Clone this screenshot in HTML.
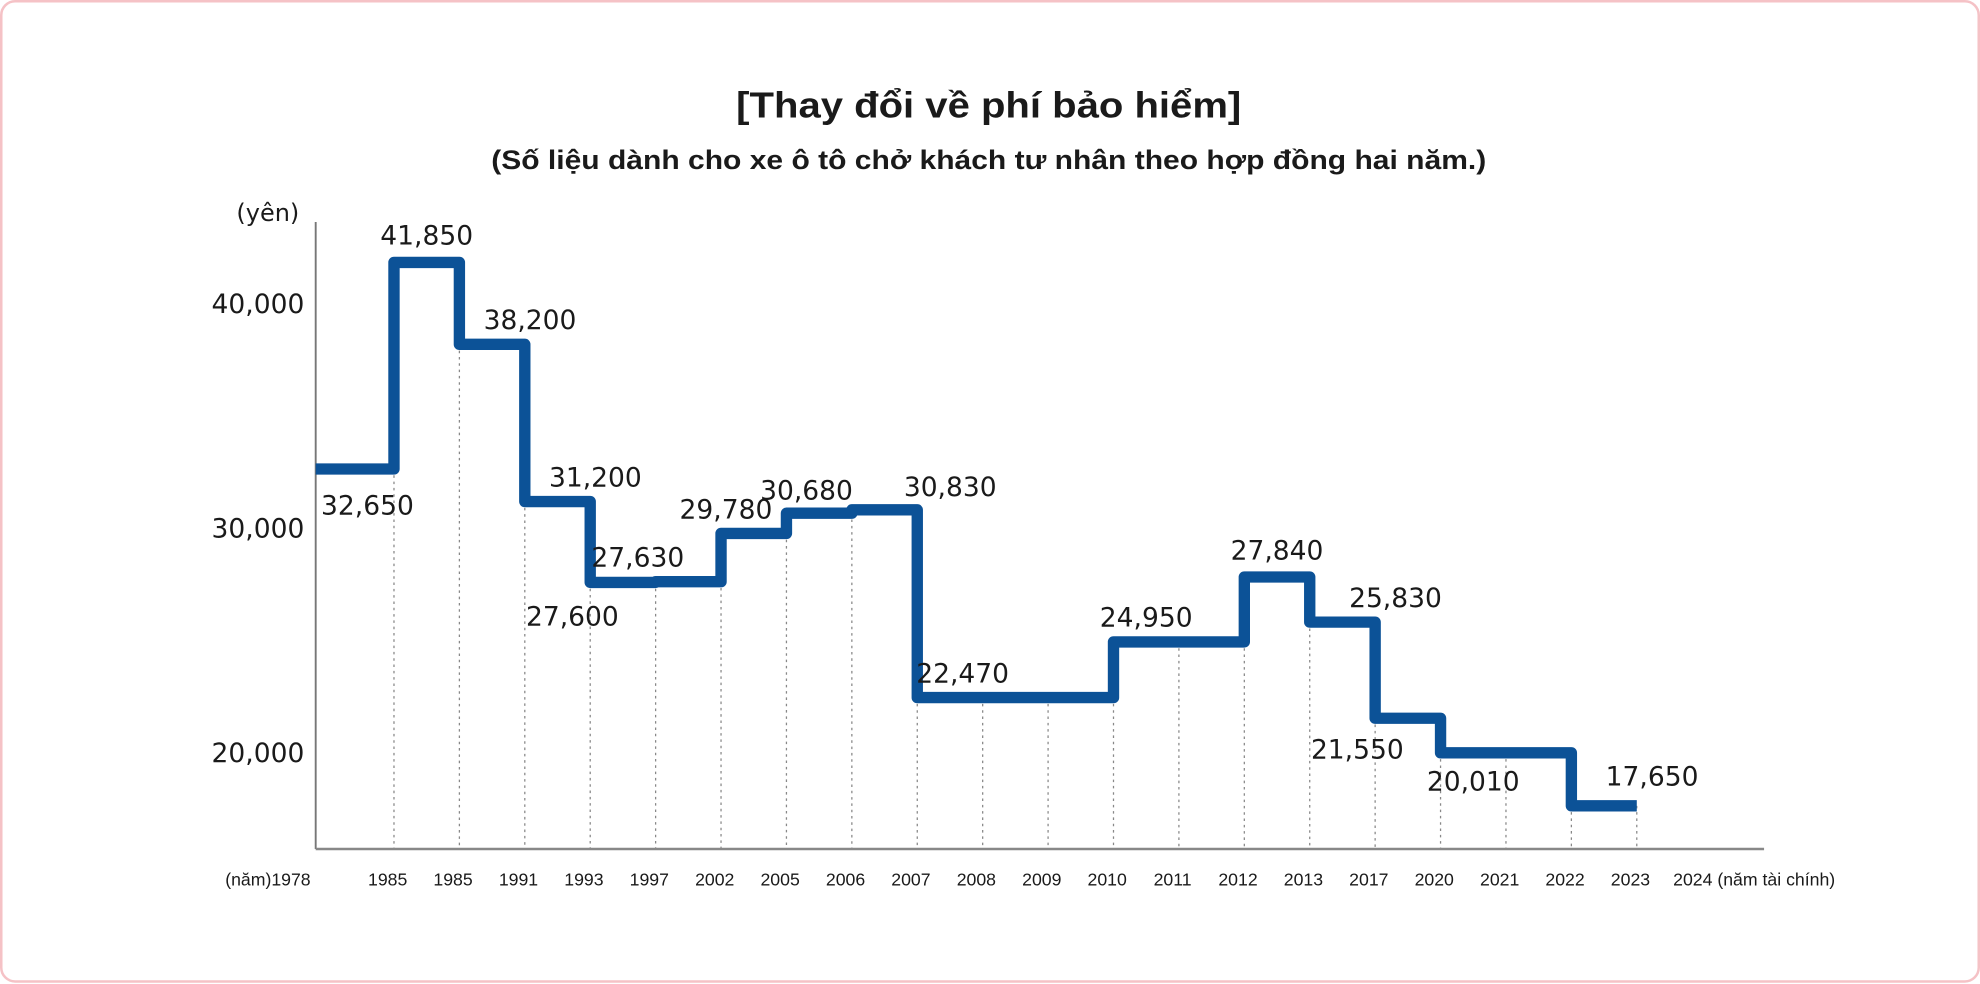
<!DOCTYPE html>
<html><head><meta charset="utf-8"><style>
html,body{margin:0;padding:0;background:#fff;width:1980px;height:984px;overflow:hidden}
svg{display:block}
text{font-family:"Liberation Sans",sans-serif;fill:#1a1a1a}
.num{font-family:"DejaVu Sans","Liberation Sans",sans-serif}
</style></head><body>
<svg id="chart" width="1980" height="984" viewBox="0 0 1568 780" preserveAspectRatio="none" xmlns="http://www.w3.org/2000/svg">
<rect x="1" y="1" width="1566" height="777" rx="11" fill="#fff" stroke="#f5c2c6" stroke-width="2"/>
<text x="783" y="93" text-anchor="middle" font-size="29" font-weight="bold" textLength="400" lengthAdjust="spacingAndGlyphs">[Thay đổi về phí bảo hiểm]</text>
<text x="783" y="134" text-anchor="middle" font-size="21" font-weight="bold" textLength="788" lengthAdjust="spacingAndGlyphs">(Số liệu dành cho xe ô tô chở khách tư nhân theo hợp đồng hai năm.)</text>
<text class="num" x="237" y="175" text-anchor="end" font-size="19">(yên)</text>
<g id="grid"></g>
<line x1="250" y1="176" x2="250" y2="673" stroke="#777" stroke-width="1.5"/>
<line x1="250" y1="673" x2="1397" y2="673" stroke="#888" stroke-width="2"/>
<g id="yticks"></g>
<g id="xticks"></g>
<g id="series"></g>
<g id="labels"></g>
</svg>
<script>
const boundaryYears = ["(năm)1978","1985","1985","1991","1993","1997","2002","2005","2006","2007","2008","2009","2010","2011","2012","2013","2017","2020","2021","2022","2023","2024 (năm tài chính)"];
const premiums = [32650,41850,38200,31200,27600,27630,29780,30680,30830,22470,22470,22470,24950,24950,27840,25830,21550,20010,20010,17650];
const yTicks = [20000,30000,40000];
const yTickLabels = ["20,000","30,000","40,000"];
const valueLabelSegments = [0,1,2,3,4,5,6,7,8,9,12,14,15,16,17,19];
const labelDx = [10,0,30,30,-40,-40,-22,-10,52,10,0,0,42,-40,0,38];
const labelDy = [36,-14,-12,-12,34,-12,-12,-11,-11,-12,-12,-14,-12,32,30,-16];

const NS="http://www.w3.org/2000/svg";
function x(i){ return i===0 ? 250 : 312 + (i-1)*51.8; }
function y(v){ return 208 + (41850 - v)*0.0178; }
function mk(tag,attrs,parent){const e=document.createElementNS(NS,tag);for(const k in attrs)e.setAttribute(k,attrs[k]);parent.appendChild(e);return e;}

const grid=document.getElementById('grid');
for(let i=1;i<=premiums.length;i++){
  const prev=premiums[i-1], next=i<premiums.length?premiums[i]:premiums[i-1];
  const top=Math.max(y(prev),y(next));
  const l=mk('line',{x1:x(i),x2:x(i),y1:top,y2:673,stroke:'#888','stroke-width':1,'stroke-dasharray':'2,3'},grid);
  
  
}
const yt=document.getElementById('yticks');
yTicks.forEach((v,k)=>{
  const t=mk('text',{x:241,y:y(v)+7,'text-anchor':'end','font-size':21,'class':'num'},yt);
  t.textContent=yTickLabels[k];
  
  
});
const xt=document.getElementById('xticks');
boundaryYears.forEach((lab,i)=>{
  let xx = i===0 ? 246 : (i===boundaryYears.length-1 ? x(i)-23 : x(i)-5);
  const anchor = i===0 ? 'end' : (i===boundaryYears.length-1 ? 'start' : 'middle');
  const t=mk('text',{x:xx,y:702,'text-anchor':anchor,'font-size':14},xt);
  t.textContent=lab;
  
  
});
let d='M'+x(0)+' '+y(premiums[0]);
premiums.forEach((v,i)=>{
  if(i>0) d+=' L'+x(i)+' '+y(v);
  d+=' L'+x(i+1)+' '+y(v);
});
const s=document.getElementById('series');
const p=mk('path',{d:d,fill:'none',stroke:'#0c5297','stroke-width':9,'stroke-linejoin':'round'},s);


const lg=document.getElementById('labels');
valueLabelSegments.forEach((si,k)=>{
  const v=premiums[si];
  const cx=(x(si)+x(si+1))/2+labelDx[k];
  const t=mk('text',{x:cx,y:y(v)+labelDy[k],'text-anchor':'middle','font-size':21,'class':'num'},lg);
  t.textContent=v.toLocaleString('en-US');
  
  
});
</script>
</body></html>
